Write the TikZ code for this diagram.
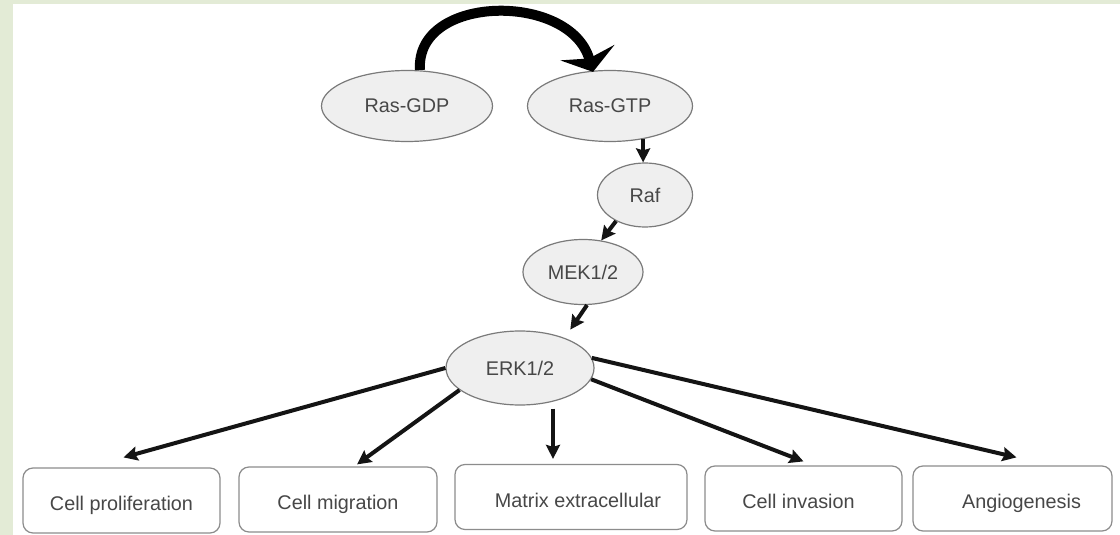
\documentclass[tikz,border=0pt]{standalone}
\usepackage{fontspec}
\setmainfont{Liberation Sans}
\usetikzlibrary{arrows.meta,shapes.geometric}
\definecolor{leaf}{HTML}{E3EBD6}
\definecolor{bubble}{HTML}{EFEFEF}
\definecolor{rim}{HTML}{7A7A7A}
\definecolor{boxrim}{HTML}{8C8C8C}
\definecolor{ink}{HTML}{474747}
% set box labels a little below the box centre
\newcommand{\lowtext}[1]{\raisebox{-2.5pt}[7pt][2pt]{#1}}
\begin{document}
\begin{tikzpicture}[x=0.5pt,y=-0.5pt,
  label font/.style={font=\fontsize{9.9pt}{12pt}\selectfont},
  state/.style={ellipse, draw=rim, line width=0.6pt, fill=bubble, inner sep=0pt,
    text=ink, label font},
  outcome/.style={rectangle, rounded corners=5pt, draw=boxrim, line width=0.6pt,
    fill=white, inner sep=0pt, minimum height=32.5pt, text=ink, label font},
  link/.style={draw=black!92, line width=2pt,
    -{Stealth[length=7pt,width=7pt,inset=1pt]}},
  swap/.style={draw=black, line width=5pt,
    -{Stealth[length=10pt,width=28pt,inset=3pt]}},
]
\useasboundingbox (0,0) rectangle (1120,535);
% page frame
\fill[leaf] (0,0) rectangle (1120,535);
\fill[white] (13,4) rectangle (1120,535);

% signalling cascade
\node[state, minimum width=85.5pt, minimum height=35.5pt] (gdp) at (407,106) {Ras-GDP};
\node[state, minimum width=82.5pt, minimum height=35.5pt] (gtp) at (610,106) {Ras-GTP};
\node[state, minimum width=47.5pt, minimum height=32pt]   (raf) at (645,195) {Raf};
\node[state, minimum width=60pt,   minimum height=32.5pt] (mek) at (583,272) {MEK1/2};
\node[state, minimum width=74pt,   minimum height=37pt]   (erk) at (520,368) {ERK1/2};

% cellular outcomes
\node[outcome, minimum width=98.5pt]  (prolif) at (121.5,500.5) {\lowtext{Cell proliferation}};
\node[outcome, minimum width=99pt]    (migr)   at (338,499.5)   {\lowtext{Cell migration}};
\node[outcome, minimum width=116pt]   (matrix) at (571,497)     {\lowtext{\hspace*{7pt}Matrix extracellular}};
\node[outcome, minimum width=98.5pt]  (invas)  at (803.5,498.5) {\lowtext{Cell invasion\hspace*{5pt}}};
\node[outcome, minimum width=99.5pt]  (angio)  at (1012.5,498.5){\lowtext{\hspace*{9pt}Angiogenesis}};

% GDP/GTP exchange
\draw[swap] ([xshift=6.5pt]gdp.north)
  .. controls +(-2.5pt,38pt) and +(-11.5pt,40pt) ..
  ([xshift=-8.5pt,yshift=-1pt]gtp.north);

% kinase chain
\draw[link] (gtp.-45) -- (gtp.-45 |- raf.north);
\draw[link] (raf.-138) -- (mek.60);
\draw[link, shorten >=5pt] (mek.-83) -- (erk.34);

% ERK targets
\draw[link] (erk.west) -- ([xshift=1pt,yshift=5pt]prolif.north);
\draw[link] (erk.-160) -- ([xshift=9.5pt,yshift=1pt]migr.north);
\draw[link] ([xshift=-9pt,yshift=-1.5pt]matrix.north |- erk.south) -- ([xshift=-9pt,yshift=2.5pt]matrix.north);
\draw[link] (erk.-9) -- ([yshift=2pt]invas.north);
\draw[link] (erk.8) -- ([xshift=2pt,yshift=4pt]angio.north);
\end{tikzpicture}
\end{document}
